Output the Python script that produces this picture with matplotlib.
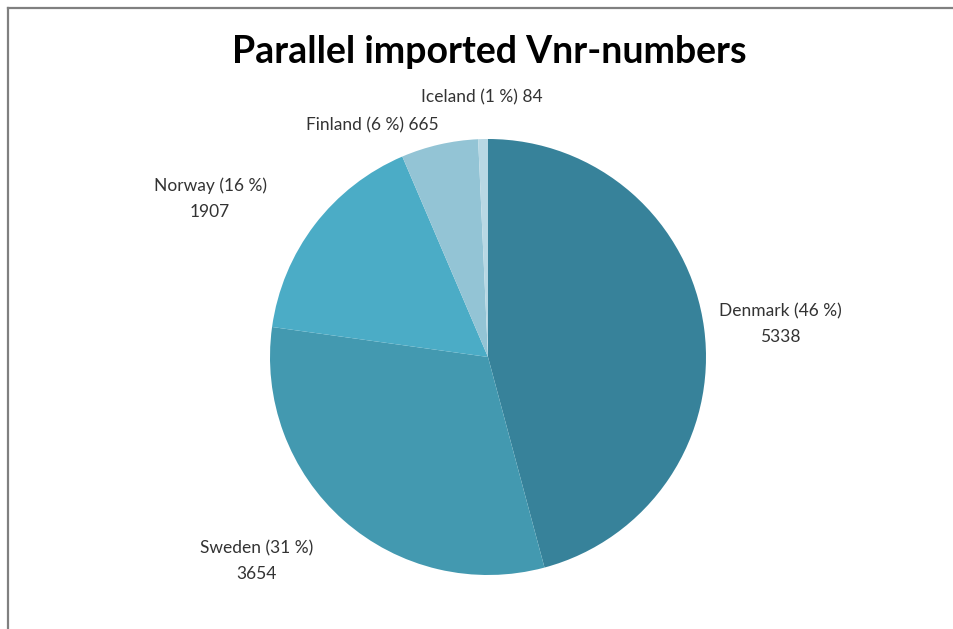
import matplotlib as mpl
import matplotlib.pyplot as plt
import numpy as np

mpl.use('Agg')

# Data
countries = ['Denmark', 'Sweden', 'Norway', 'Finland', 'Iceland']
counts = [5338, 3654, 1907, 665, 84]
colors = ['#37829A', '#4399B0', '#4BACC6', '#93C4D5', '#B8D8E4']

# label text centres in pie-radius units (Excel "best fit" placement)
label_pos = [(1.34, 0.15), (-1.06, -0.935), (-1.275, 0.725), (-0.53, 1.064), (-0.03, 1.19)]
one_line = [False, False, False, True, True]

plt.rcParams['font.family'] = ['Lato', 'DejaVu Sans']

fig = plt.figure(figsize=(9.54, 6.29), dpi=100)

# thin grey frame at top and left, like the cropped chart area
fig.add_artist(plt.Line2D([8 / 954, 8 / 954], [0, 1 - 8 / 629], transform=fig.transFigure,
                          color='#808080', linewidth=1.6))
fig.add_artist(plt.Line2D([8 / 954, 1], [1 - 8 / 629, 1 - 8 / 629], transform=fig.transFigure,
                          color='#808080', linewidth=1.6))

cx, cy, r = 488, 629 - 357, 218
ax = fig.add_axes([(cx - r) / 954, (cy - r) / 629, 2 * r / 954, 2 * r / 629])

wedges, _ = ax.pie(counts, colors=colors, startangle=90, counterclock=False,
                   wedgeprops=dict(linewidth=0))
ax.set_xlim(-1, 1)
ax.set_ylim(-1, 1)
ax.set_aspect('auto')
ax.axis('off')

total = sum(counts)
for name, val, pos, single in zip(countries, counts, label_pos, one_line):
    pct = int(round(100 * val / total))
    sep = ' ' if single else '\n'
    txt = '{} ({} %){}{}'.format(name, pct, sep, val)
    ax.text(pos[0], pos[1], txt, ha='center', va='center', fontsize=12.5,
            color='#333333', linespacing=1.75, clip_on=False)

fig.text(489 / 954, 1 - 52 / 629, 'Parallel imported Vnr-numbers', ha='center', va='center',
         fontsize=27, fontweight='bold', color='black')

fig.savefig('out.png', dpi=100)
